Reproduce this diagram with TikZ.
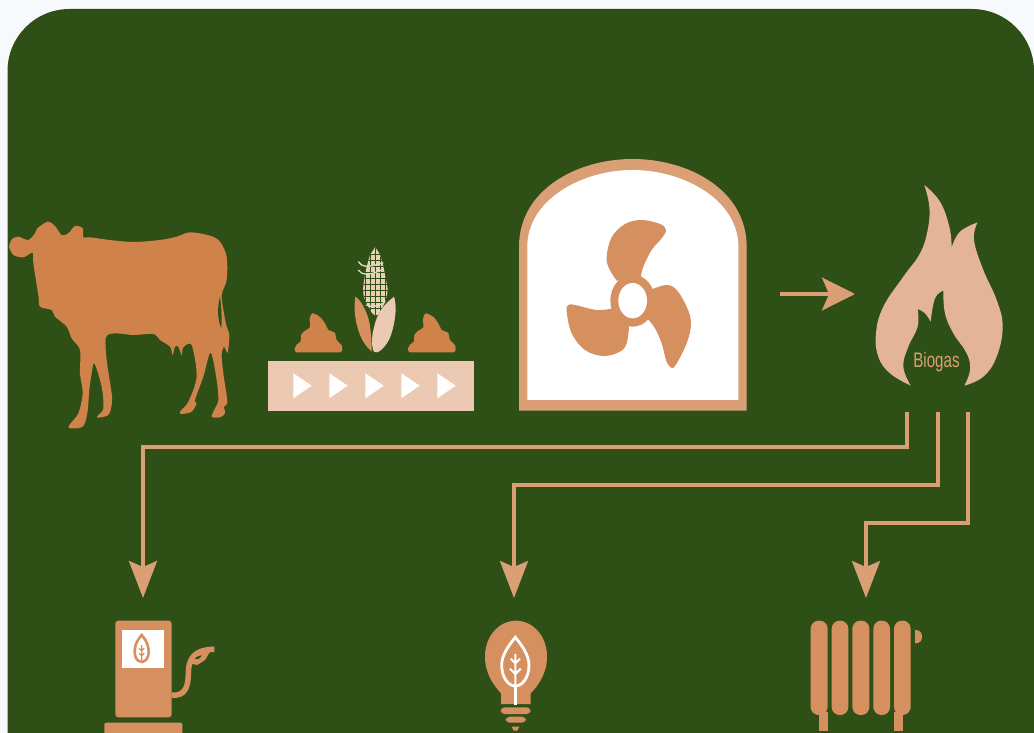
\documentclass[tikz,border=0pt]{standalone}
\usepackage{fontspec}
\usetikzlibrary{arrows.meta}
\newfontfamily\biofont[FakeStretch=0.72]{Liberation Sans}
\definecolor{pagebg}{HTML}{F7F9FC}
\definecolor{panelbg}{HTML}{2E5016}
\definecolor{cowc}{HTML}{CF8249}
\definecolor{fanc}{HTML}{D69060}
\definecolor{linec}{HTML}{DB9F76}
\definecolor{flamec}{HTML}{E3B498}
\definecolor{beltc}{HTML}{EBC9B3}
\definecolor{strandc}{HTML}{CFE0C8}
\definecolor{cobc}{HTML}{EBCFB2}
\tikzset{
  flow/.style={draw=linec,line width=3.2pt,-{Stealth[length=37pt,width=28pt,inset=6pt]}},
  sm/.style={smooth,tension=0.5},
  sm2/.style={smooth,tension=0.7},
  zm/.style 2 args={shift={(#1,#2)},scale=1/3},
}
\begin{document}
\begin{tikzpicture}[x=1pt,y=-1pt]
\useasboundingbox (0,0) rectangle (1034,733);
\fill[pagebg] (0,0) rectangle (1034,733);
\fill[panelbg] (7.5,733) -- (7.5,71) .. controls (7.5,36.8) and (35.3,9) .. (69.5,9) -- (972,9) .. controls (1006.2,9) and (1034,36.8) .. (1034,71) -- (1034,733) -- cycle;

% cow
\begin{scope}[zm={0}{200}]
\fill[cowc] plot[sm] coordinates {(27,140) (35,118) (55,110) (85,120) (105,100) (112,85) (143,65) (165,78) (185,105) (205,100) (225,78) (248,85) (250,112) (270,112) (330,120) (400,126) (480,120) (530,110) (570,97) (630,107) (660,125) (680,170) (680,240) (665,285) (672,340) (680,380) (688,405) (683,458) (672,440) (665,465) (670,520) (682,605) (672,620) (675,640) (660,652) (635,650) (645,625) (655,600) (650,540) (632,458) (610,530) (585,600) (590,610) (575,635) (545,642) (540,635) (565,605) (590,530) (575,435) (550,442) (545,465) (535,440) (525,440) (518,465) (510,440) (480,420) (460,402) (400,405) (345,400) (318,412) (320,480) (335,580) (335,615) (325,645) (295,653) (292,648) (310,625) (305,560) (283,490) (275,520) (268,570) (262,640) (248,680) (210,685) (208,675) (235,640) (248,580) (240,520) (240,450) (215,415) (200,380) (165,350) (155,330) (120,320) (115,285) (100,190) (98,158) (70,172) (40,165) (27,140)} -- cycle;
\fill[panelbg] (660,290) .. controls (652,320) and (652,360) .. (664,385) .. controls (666,350) and (664,320) .. (660,290) -- cycle;
\end{scope}

% feed: dung, corn, belt
\begin{scope}[zm={260}{240}]
\fill[beltc] (25,362) rectangle (642,513);
\foreach \d in {0,108,216,324,432}
  \fill[white] (100+\d,400) -- (155+\d,437) -- (100+\d,475) -- cycle;
\foreach \d in {0,340}
  \fill[cowc] (108+\d,337) -- plot[smooth,tension=0.5] coordinates {(103+\d,328) (110+\d,314) (122+\d,304) (123+\d,285) (135+\d,272) (150+\d,262) (149+\d,237) (157+\d,220) (180+\d,231) (196+\d,252) (205+\d,270) (224+\d,278) (230+\d,300) (245+\d,316) (247+\d,330)} -- (242+\d,337) -- cycle;
% cob
\begin{scope}
\clip plot[smooth,tension=0.7] coordinates {(345,22) (362,50) (376,110) (382,160) (362,212) (345,226) (328,205) (310,160) (316,100) (330,45)} -- cycle;
\fill[cobc] (300,15) rectangle (390,235);
\foreach \y in {42,60,78,96,114,132,150,168,186,204}
  \draw[panelbg,line width=0.8pt] (300,\y) -- (390,\y);
\foreach \x in {316,331,346,361,376}
  \draw[panelbg,line width=0.7pt] (\x,20) -- (\x,230);
\end{scope}
\draw[strandc,line width=1.3pt] (295,65) .. controls (305,80) and (320,85) .. (370,68);
\draw[strandc,line width=1.3pt] (295,90) .. controls (305,105) and (325,108) .. (365,90);
\draw[strandc,line width=1.3pt] (318,195) .. controls (335,202) and (355,200) .. (376,185);
% leaves
\fill[fanc] plot[smooth,tension=0.7] coordinates {(286,170) (305,190) (325,235) (333,285) (335,335)} -- plot[smooth,tension=0.7] coordinates {(335,335) (310,305) (292,260) (284,210) (286,170)} -- cycle;
\fill[beltc] plot[smooth,tension=0.7] coordinates {(402,170) (407,205) (400,260) (382,308) (352,337) (338,325) (337,285)} -- plot[smooth,tension=0.7] coordinates {(337,285) (350,235) (372,198) (402,170)} -- cycle;
\end{scope}

% digester
\begin{scope}[zm={510}{150}]
\fill[linec] (27,782) -- (27,290) .. controls (27,120) and (200,27) .. (368,27) .. controls (536,27) and (710,120) .. (710,290) -- (710,782) -- cycle;
\fill[white] (52,750) -- (52,290) .. controls (52,150) and (215,60) .. (368,60) .. controls (521,60) and (685,150) .. (685,290) -- (685,750) -- cycle;
\fill[fanc] plot[smooth,tension=0.6] coordinates {(320,392) (297,355) (290,320) (305,262) (345,222) (395,210) (450,222) (468,240) (455,265) (425,300) (400,350) (392,382)} -- cycle;
\fill[fanc] plot[smooth,tension=0.6] coordinates {(425,418) (470,405) (500,420) (530,470) (543,520) (530,580) (495,648) (480,650) (468,630) (455,580) (435,535) (412,505)} -- cycle;
\fill[fanc] plot[smooth,tension=0.6] coordinates {(310,475) (260,480) (195,465) (175,465) (170,485) (185,550) (225,600) (280,618) (330,605) (350,580) (357,530)} -- cycle;
\fill[fanc] (368,452) ellipse[x radius=67,y radius=78];
\fill[white] (368,452) ellipse[x radius=43,y radius=53];
\end{scope}

% flame
\begin{scope}[zm={770}{170}]
\fill[flamec] plot[sm2] coordinates {(463,45) (510,95) (538,170) (545,232)} -- plot[sm2] coordinates {(545,232) (570,185) (623,157)} -- plot[sm2] coordinates {(623,157) (612,210) (640,300) (680,390) (698,470) (680,560) (640,620) (583,647)} -- plot[sm2] coordinates {(583,647) (600,600) (590,550) (550,490) (525,430) (520,362)} -- plot[sm2] coordinates {(520,362) (495,385) (482,455)} -- plot[sm2] coordinates {(482,455) (465,430) (443,417)} -- plot[sm2] coordinates {(443,417) (443,470) (415,530) (400,590) (422,647)} -- plot[sm2] coordinates {(422,647) (360,610) (325,560) (318,490) (340,410) (400,320) (450,250) (473,180) (478,110) (463,45)} -- cycle;
\end{scope}
\node[inner sep=0pt,text=linec,font=\biofont\fontsize{21}{21}\selectfont] (biogas) at (936.5,362) {Biogas};

% connectors
\coordinate (a0) at (780,294); \coordinate (a1) at (855,294);
\draw[draw=linec,line width=3.2pt,-{Stealth[length=33pt,width=33pt,inset=7pt]}] (a0) -- (a1);
\coordinate (o1) at (907,412); \coordinate (o2) at (938,412); \coordinate (o3) at (968,412);
\coordinate (pumpin) at (143,598); \coordinate (bulbin) at (514,598); \coordinate (radin) at (866,598);
\draw[flow] (o1) |- (143,447) -- (pumpin);
\draw[flow] (o2) |- (514,485) -- (bulbin);
\draw[flow] (o3) |- (866,523) -- (radin);

% pump
\begin{scope}[zm={90}{600}]
\fill[fanc,rounded corners=3pt] (76,62) rectangle (245,352);
\fill[fanc,rounded corners=2pt] (43,368) rectangle (277,412);
\fill[white] (97,90) rectangle (222,203);
\draw[fanc,line width=2.6pt] (155,105) .. controls (172,125) and (180,145) .. (174,168) .. controls (168,192) and (142,192) .. (136,168) .. controls (130,145) and (138,125) .. (155,105) -- cycle;
\draw[fanc,line width=1.2pt] (155,135) -- (155,180) (155,152) -- (147,145) (155,152) -- (163,145) (155,167) -- (147,160) (155,167) -- (163,160);
\draw[fanc,line width=5.5pt] (245,285) .. controls (285,290) and (295,260) .. (295,220) .. controls (295,175) and (315,148) .. (373,148);
\fill[fanc] (310,160) -- (360,155) -- (345,180) -- (322,195) -- (300,190) -- cycle;
\fill[panelbg] (314,176) .. controls (322,168) and (330,166) .. (336,166) .. controls (332,174) and (325,180) .. (314,176) -- cycle;
\end{scope}

% bulb
\begin{scope}[zm={460}{600}]
\fill[fanc] (123,312) -- (123,280) .. controls (100,255) and (75,220) .. (75,170) .. controls (75,105) and (120,62) .. (168,62) .. controls (216,62) and (261,105) .. (261,170) .. controls (261,220) and (236,255) .. (212,280) -- (212,312) -- cycle;
\fill[fanc,rounded corners=4pt] (122,322) rectangle (212,342);
\fill[fanc,rounded corners=4pt] (137,350) rectangle (198,368);
\fill[fanc] (155,380) -- (178,380) -- (172,392) -- (161,392) -- cycle;
\draw[white,line width=2.8pt] (166,112) .. controls (185,135) and (207,165) .. (207,195) .. controls (207,235) and (185,258) .. (166,258) .. controls (147,258) and (125,235) .. (125,195) .. controls (125,165) and (147,135) .. (166,112) -- cycle;
\draw[white,line width=2.8pt] (166,258) -- (166,315);
\draw[white,line width=2pt] (166,162) -- (166,258) (166,190) -- (152,176) (166,190) -- (180,176) (166,222) -- (150,206) (166,222) -- (182,206);
\end{scope}

% radiator
\begin{scope}[zm={790}{600}]
\foreach \xa/\xb in {62/113,125/175,187/238,250/300,312/362}
  \fill[fanc,rounded corners=8pt] (\xa,62) rectangle (\xb,345);
\fill[fanc] (88,335) rectangle (115,393);
\fill[fanc] (312,335) rectangle (340,393);
\fill[fanc] (375,90) .. controls (392,90) and (396,100) .. (396,110) .. controls (396,120) and (392,130) .. (375,130) -- cycle;
\end{scope}
\end{tikzpicture}
\end{document}
